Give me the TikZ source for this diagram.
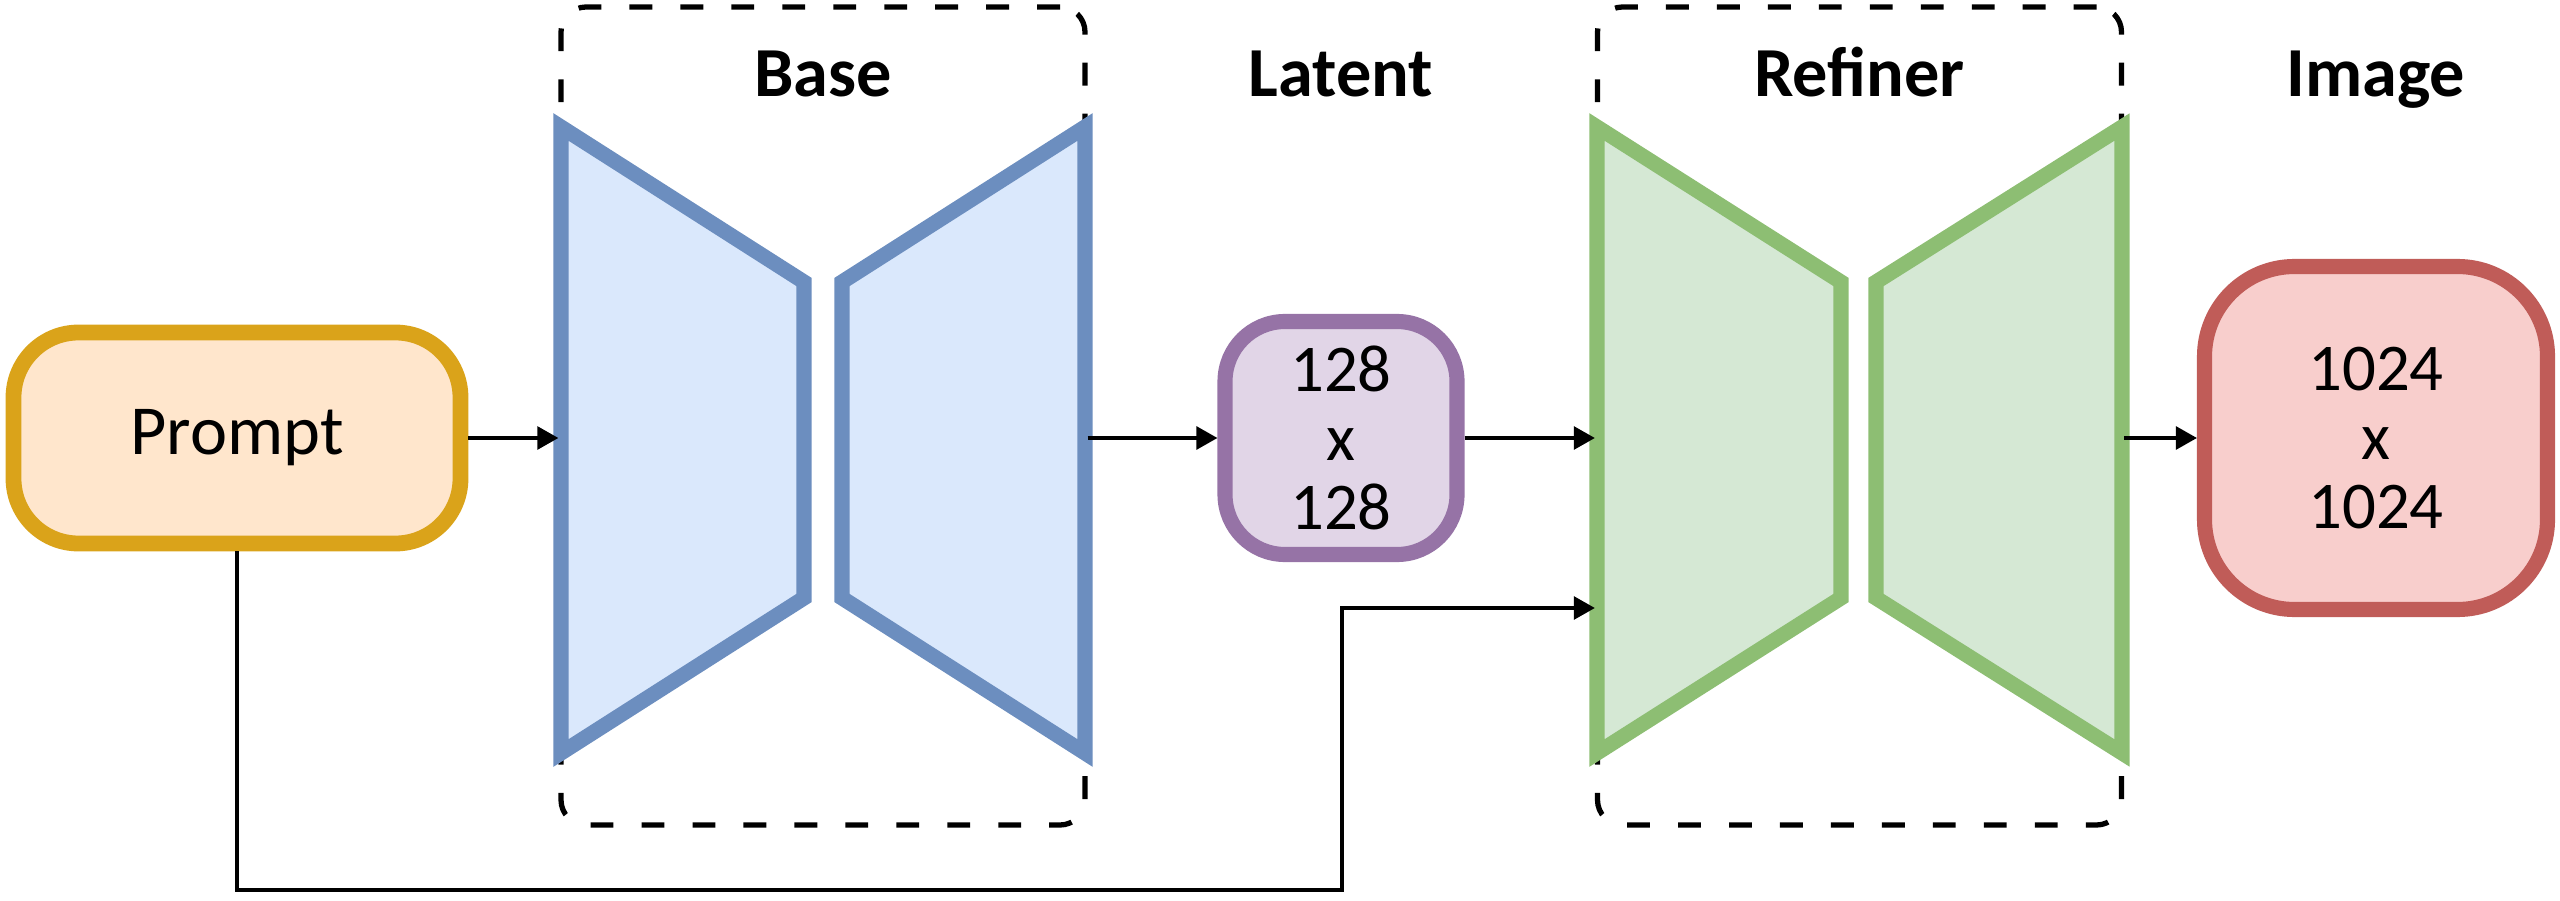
\documentclass[tikz,border=0pt]{standalone}
\usepackage{fontspec}
\setsansfont{Carlito}
\usetikzlibrary{arrows.meta,positioning,calc}
\definecolor{PromptFill}{HTML}{FFE6CC}
\definecolor{PromptLine}{HTML}{DAA31A}
\definecolor{BaseFill}{HTML}{DAE8FC}
\definecolor{BaseLine}{HTML}{6C8EBF}
\definecolor{LatentFill}{HTML}{E1D5E7}
\definecolor{LatentLine}{HTML}{9673A6}
\definecolor{RefinerFill}{HTML}{D5E8D4}
\definecolor{RefinerLine}{HTML}{8DBE73}
\definecolor{ImageFill}{HTML}{F8CECC}
\definecolor{ImageLine}{HTML}{C05C58}

\begin{document}
\begin{tikzpicture}[font=\sffamily,
  box/.style={rounded corners=#1, inner sep=0pt, align=center},
  stage/.style={draw, line width=1.5pt, dash pattern=on 6.5pt off 8pt, rounded corners=0.25cm,
    minimum width=5.24cm, minimum height=8.18cm, inner sep=0pt},
  half/.style={line width=4.3pt},
  title/.style={font=\sffamily\bfseries\fontsize{20}{24}\selectfont, anchor=base},
  dims/.style={font=\sffamily\fontsize{19}{19.6}\selectfont, align=center},
  link/.style={-{Triangle[length=6pt,width=6.5pt]}, line width=1pt}]
  \useasboundingbox (0,0) rectangle (25.6,9);

  % the two stages
  \node[stage] (base) at (8.23,4.84) {};
  \node[stage] (refiner) at (18.595,4.84) {};
  \draw[half, draw=BaseLine, fill=BaseFill] (5.61,7.73) -- (8.04,6.18) -- (8.04,3.02) -- (5.61,1.47) -- cycle;
  \draw[half, draw=BaseLine, fill=BaseFill] (10.85,7.73) -- (8.42,6.18) -- (8.42,3.02) -- (10.85,1.47) -- cycle;
  \draw[half, draw=RefinerLine, fill=RefinerFill] (15.97,7.73) -- (18.41,6.18) -- (18.41,3.02) -- (15.97,1.47) -- cycle;
  \draw[half, draw=RefinerLine, fill=RefinerFill] (21.22,7.73) -- (18.76,6.18) -- (18.76,3.02) -- (21.22,1.47) -- cycle;

  % inputs and outputs
  \node[box=0.65cm, draw=PromptLine, fill=PromptFill, line width=4.5pt, minimum width=4.47cm,
    minimum height=2.11cm, font=\sffamily\fontsize{20}{24}\selectfont] (prompt) at (2.37,4.62) {Prompt};
  \node[box=0.6cm, draw=LatentLine, fill=LatentFill, line width=4.3pt, minimum width=2.32cm,
    minimum height=2.33cm, dims] (latent) at (13.41,4.62) {128\\x\\128};
  \node[box=0.9cm, draw=ImageLine, fill=ImageFill, line width=4.3pt, minimum size=3.43cm,
    dims] (image) at (23.76,4.62) {1024\\x\\1024};

  % titles
  \node[title] (basetitle) at (8.23,8.03) {Base};
  \node[title] (latenttitle) at (latent |- basetitle.base) {Latent};
  \node[title] (refinertitle) at (refiner |- basetitle.base) {Refiner};
  \node[title] (imagetitle) at (image |- basetitle.base) {Image};

  % connectors
  \draw[link] (prompt.east) -- (prompt.east -| base.west);
  \draw[link] (latent.west -| base.east) -- (latent.west);
  \draw[link] (latent.east) -- (latent.east -| refiner.west);
  \draw[link] (image.west -| refiner.east) -- (image.west);
  \coordinate (lowrun) at (13.42,0.10);
  \coordinate (condin) at (refiner.west |- 0,2.92);
  \draw[link] (prompt.south) |- (lowrun) |- (condin);
\end{tikzpicture}
\end{document}
